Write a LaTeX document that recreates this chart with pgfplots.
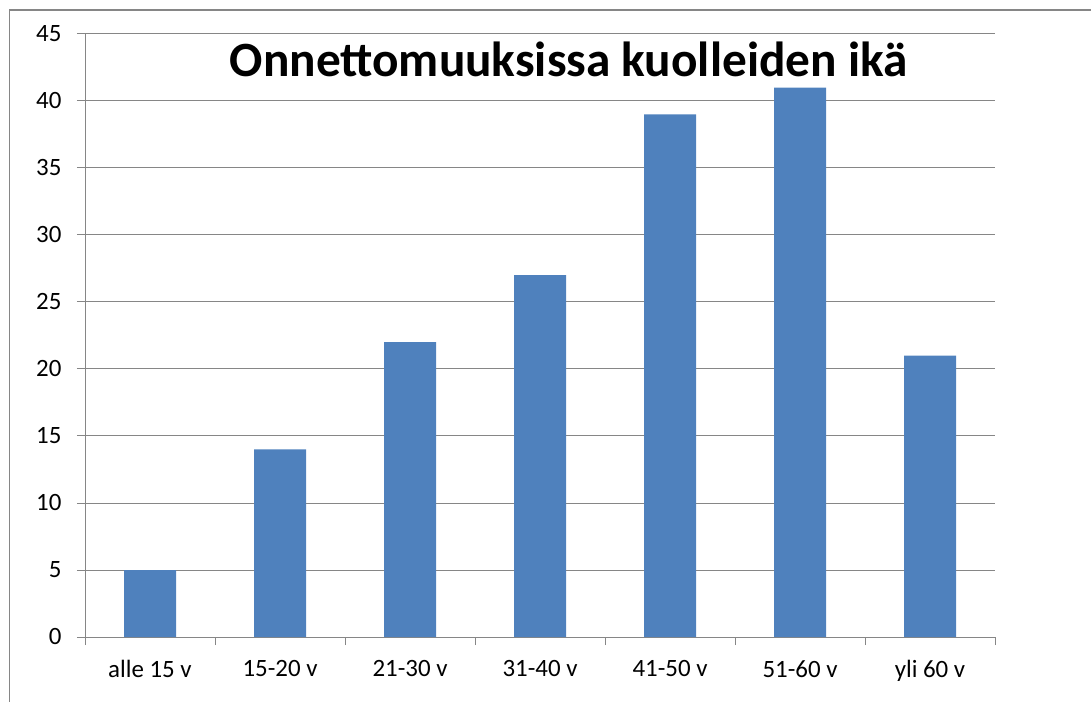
\documentclass[border=0pt]{standalone}
\usepackage{pgfplots}
\pgfplotsset{compat=1.18}
\usepackage{fontspec}
\setmainfont{Carlito}
\definecolor{barblue}{HTML}{4F81BD}
\definecolor{gridgray}{HTML}{868686}
\begin{document}
\begin{tikzpicture}
\useasboundingbox (-85bp,-65bp) rectangle (1006bp,637bp);
\clip (-85bp,-65bp) rectangle (1006bp,637bp);
\draw[gridgray, line width=1.2bp] (-75.5bp,-80bp) -- (-75.5bp,627bp) -- (1020bp,627bp);
\begin{axis}[
  at={(0,0)}, anchor=south west,
  scale only axis, width=910bp, height=603bp,
  xmin=-0.5, xmax=6.5, ymin=0, ymax=45,
  axis x line*=bottom, axis y line*=left,
  axis line style={gridgray, line width=1bp, -},
  ytick={0,5,...,45},
  ymajorgrids, grid style={gridgray, line width=1bp},
  xtick={0,...,6},
  xticklabels={alle 15 v,15-20 v,21-30 v,31-40 v,41-50 v,51-60 v,yli 60 v},
  minor xtick={-0.5,0.5,...,6.5},
  tick align=outside,
  major tick length=8bp, minor tick length=8bp,
  x tick style={draw=none},
  y tick style={gridgray, line width=1bp},
  minor x tick style={draw=gridgray, line width=1bp},
  tick label style={font=\fontsize{25}{30}\selectfont},
  /pgf/number format/assume math mode=true,
  yticklabel style={xshift=-12bp},
  xticklabel style={yshift=-12bp},
  ybar, bar width=52bp,
]
\addplot[fill=barblue, draw=none] coordinates {(0,5) (1,14) (2,22) (3,27) (4,39) (5,41) (6,21)};
\node[font=\fontsize{49.5}{58}\selectfont\bfseries, anchor=center] at (axis cs:3.22,43.1) {Onnettomuuksissa kuolleiden ikä};
\end{axis}
\end{tikzpicture}
\end{document}
